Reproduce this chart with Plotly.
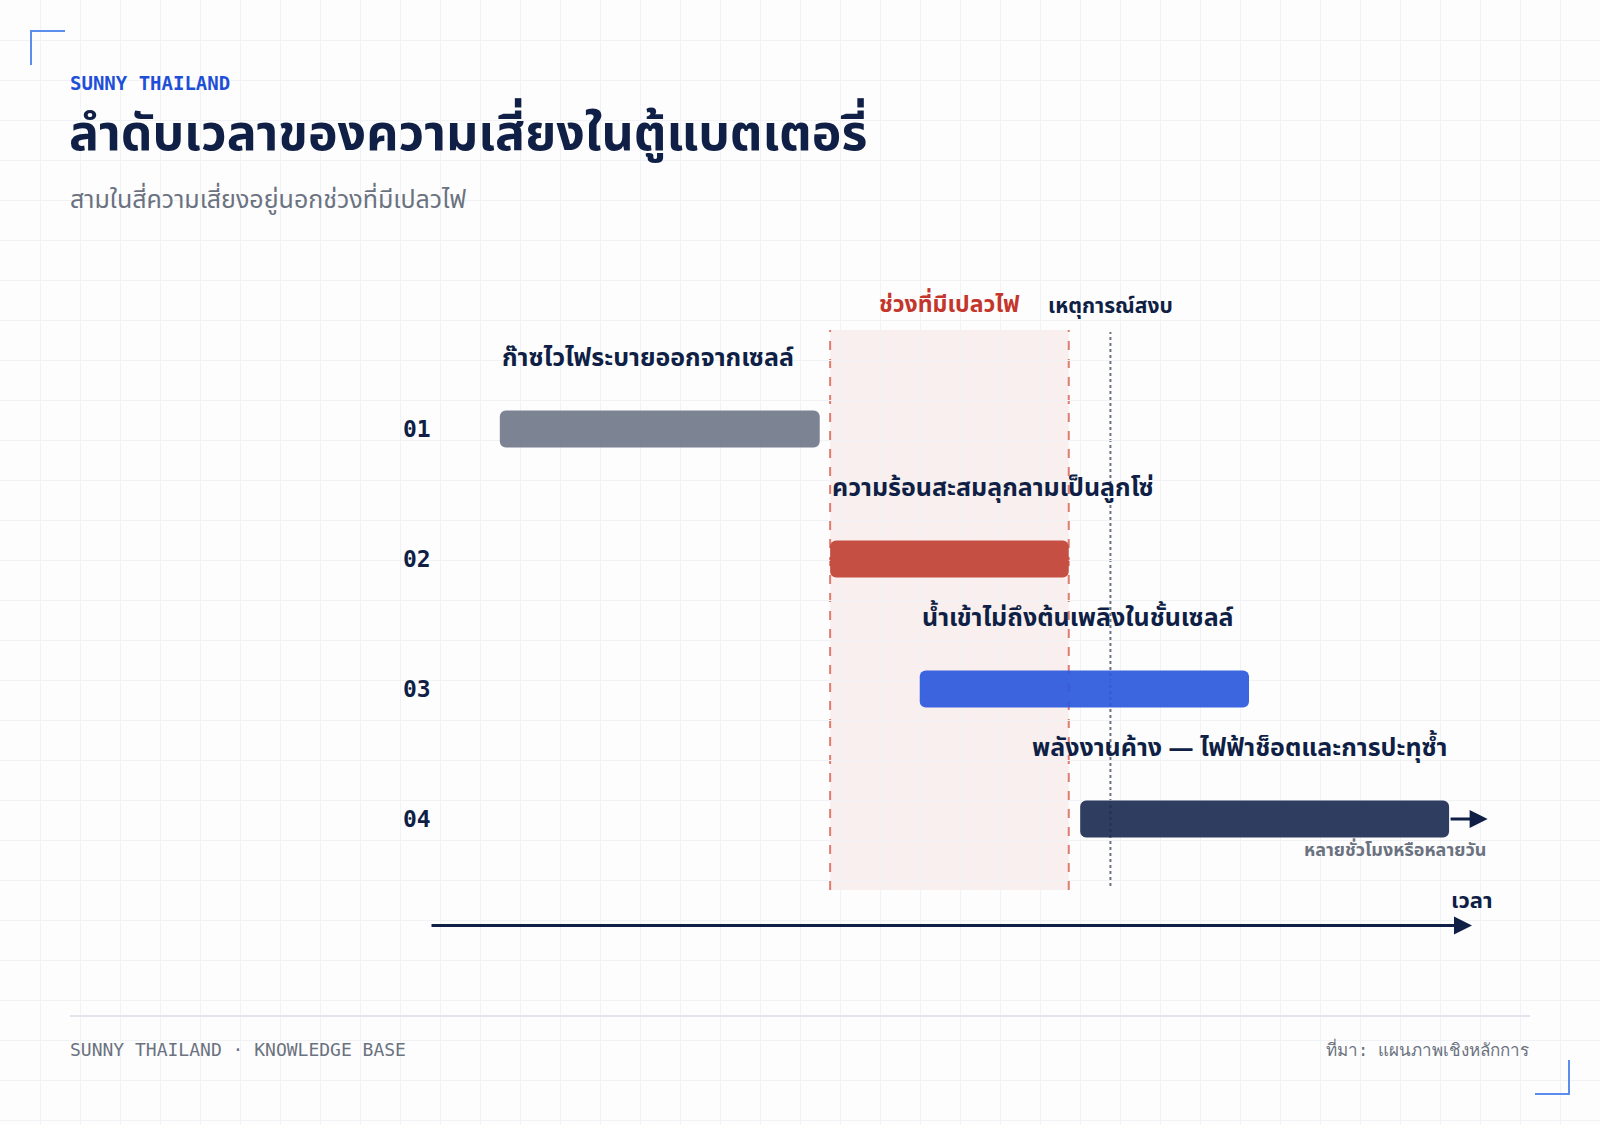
import plotly.graph_objects as go

W, H = 1600, 1125

# timeline data (abstract time units, axis runs 0 -> 100)
rows = [0, 1, 2, 3]
row_labels = ["01", "02", "03", "04"]
risk_names = [
    "ก๊าซไวไฟระบายออกจากเซลล์",
    "ความร้อนสะสมลุกลามเป็นลูกโซ่",
    "น้ำเข้าไม่ถึงต้นเพลิงในชั้นเซลล์",
    "พลังงานค้าง — ไฟฟ้าช็อตและการปะทุซ้ำ",
]
risk_start = [6.7, 38.4, 47.0, 62.4]
risk_end = [37.4, 61.3, 78.6, 97.8]
risk_colors = ["#71788a", "#c24236", "#2c59de", "#1c2d52"]
# last label sits flush with the end of its bar
label_side = ["left", "left", "left", "right"]

flame_start, flame_end = 38.4, 61.3
calm_event = 65.3
tail_end = 101.5

NAVY = "#0f1f45"
GRAY = "#6b7280"
RED = "#c4362c"
BLUE = "#1f4fd8"
THAI = "Noto Sans Thai, Noto Sans, sans-serif"
MONO = "DejaVu Sans Mono, Liberation Mono, monospace"

# pixel placement of the timeline axis
AX0, AX1 = 430.0, 1472.0
ROW0, ROW_STEP = 429.0, 130.0
k = (AX1 - AX0) / 100.0
x2_range = [-AX0 / k, (W - AX0) / k]
y2_range = [(H - ROW0) / ROW_STEP, -ROW0 / ROW_STEP]


def px(x):
    return x / W


def py(y):
    return 1 - y / H


fig = go.Figure()

# empty trace so the background grid subplot is drawn
fig.add_trace(go.Scatter(x=[], y=[], mode="markers", hoverinfo="skip", showlegend=False))

fig.add_trace(go.Bar(
    x=[e - s for s, e in zip(risk_start, risk_end)],
    base=risk_start,
    y=rows,
    orientation="h",
    width=0.285,
    marker=dict(color=risk_colors, cornerradius=6, line=dict(width=0)),
    opacity=0.92,
    xaxis="x2", yaxis="y2",
    hoverinfo="skip",
))

shapes = []
# flame window
shapes.append(dict(type="rect", xref="x2", yref="paper",
                   x0=flame_start, x1=flame_end, y0=py(890), y1=py(330),
                   fillcolor="rgba(200,60,45,0.07)", line=dict(width=0), layer="below"))
for xv in (flame_start, flame_end):
    shapes.append(dict(type="line", xref="x2", yref="paper", x0=xv, x1=xv,
                       y0=py(890), y1=py(330),
                       line=dict(color="#e07b70", width=2, dash="dash"), layer="below"))
shapes.append(dict(type="line", xref="x2", yref="paper", x0=calm_event, x1=calm_event,
                   y0=py(886), y1=py(332),
                   line=dict(color=GRAY, width=2, dash="dot"), layer="below"))
# corner brackets
shapes.append(dict(type="path", xref="paper", yref="paper",
                   path=f"M {px(31)},{py(65)} L {px(31)},{py(31)} L {px(65)},{py(31)}",
                   line=dict(color="#5b8def", width=2)))
shapes.append(dict(type="path", xref="paper", yref="paper",
                   path=f"M {px(1535)},{py(1094)} L {px(1569)},{py(1094)} L {px(1569)},{py(1060)}",
                   line=dict(color="#5b8def", width=2)))
# footer rule
shapes.append(dict(type="line", xref="paper", yref="paper",
                   x0=px(70), x1=px(1530), y0=py(1016), y1=py(1016),
                   line=dict(color="#e3e5ec", width=2)))

ann = []
for r, lab, name, s, e, side in zip(rows, row_labels, risk_names, risk_start, risk_end, label_side):
    ann.append(dict(xref="x2", yref="y2", x=0, y=r, text=f"<b>{lab}</b>",
                    xanchor="right", yanchor="middle", showarrow=False, xshift=3,
                    font=dict(family=MONO, size=23, color=NAVY)))
    ann.append(dict(xref="x2", yref="y2", x=s if side == "left" else e, y=r - 0.55,
                    text=f"<b>{name}</b>", xanchor=side, yanchor="middle", showarrow=False,
                    font=dict(family=THAI, size=25, color=NAVY)))

# tail arrow of last risk
ann.append(dict(xref="x2", yref="y2", x=tail_end, y=rows[-1], ax=risk_end[-1], ay=rows[-1],
                axref="x2", ayref="y2", text="", showarrow=True, arrowhead=2,
                arrowsize=1.2, arrowwidth=3, arrowcolor=NAVY))
ann.append(dict(xref="x2", yref="y2", x=tail_end, y=rows[-1] + 0.24,
                text="<b>หลายชั่วโมงหรือหลายวัน</b>", xanchor="right", yanchor="middle",
                showarrow=False, font=dict(family=THAI, size=18, color=GRAY)))

# time axis
ann.append(dict(xref="x2", yref="paper", x=100, y=py(925.5), ax=0, ay=0,
                axref="x2", ayref="pixel", text="", showarrow=True, arrowhead=2,
                arrowsize=1.2, arrowwidth=3, arrowcolor=NAVY))
ann.append(dict(xref="x2", yref="paper", x=102.1, y=py(901), text="<b>เวลา</b>",
                xanchor="right", yanchor="middle", showarrow=False,
                font=dict(family=THAI, size=22, color=NAVY)))

# window labels
ann.append(dict(xref="x2", yref="paper", x=(flame_start + flame_end) / 2, y=py(305),
                text="<b>ช่วงที่มีเปลวไฟ</b>", xanchor="center", yanchor="middle",
                showarrow=False, font=dict(family=THAI, size=23, color=RED)))
ann.append(dict(xref="x2", yref="paper", x=calm_event, y=py(306),
                text="<b>เหตุการณ์สงบ</b>", xanchor="center", yanchor="middle",
                showarrow=False, font=dict(family=THAI, size=21, color=NAVY)))

# header
ann.append(dict(xref="paper", yref="paper", x=px(68), y=py(83), text="<b>SUNNY THAILAND</b>",
                xanchor="left", yanchor="middle", showarrow=False,
                font=dict(family=MONO, size=19, color=BLUE)))
ann.append(dict(xref="paper", yref="paper", x=px(67), y=py(135),
                text="<b>ลำดับเวลาของความเสี่ยงในตู้แบตเตอรี่</b>",
                xanchor="left", yanchor="middle", showarrow=False,
                font=dict(family=THAI, size=50, color=NAVY)))
ann.append(dict(xref="paper", yref="paper", x=px(68), y=py(200),
                text="สามในสี่ความเสี่ยงอยู่นอกช่วงที่มีเปลวไฟ",
                xanchor="left", yanchor="middle", showarrow=False,
                font=dict(family=THAI, size=25, color=GRAY)))

# footer
ann.append(dict(xref="paper", yref="paper", x=px(68), y=py(1049),
                text="SUNNY THAILAND · KNOWLEDGE BASE",
                xanchor="left", yanchor="middle", showarrow=False,
                font=dict(family=MONO, size=18, color=GRAY)))
ann.append(dict(xref="paper", yref="paper", x=px(1531), y=py(1049),
                text="ที่มา: แผนภาพเชิงหลักการ",
                xanchor="right", yanchor="middle", showarrow=False,
                font=dict(family=MONO, size=17, color=GRAY)))

grid = dict(showgrid=True, gridcolor="#f1f2f5", gridwidth=1, zeroline=False,
            showticklabels=False, ticks="", showline=False, fixedrange=True)
plain = dict(showgrid=False, zeroline=False, showticklabels=False, ticks="",
             showline=False, fixedrange=True)

fig.update_layout(
    width=W, height=H, autosize=False,
    margin=dict(l=0, r=0, t=0, b=0),
    paper_bgcolor="#fdfdfd", plot_bgcolor="rgba(0,0,0,0)",
    showlegend=False,
    xaxis=dict(range=[0, W], dtick=40, tick0=0, domain=[0, 1], **grid),
    yaxis=dict(range=[H, 0], dtick=40, tick0=0, domain=[0, 1], **grid),
    xaxis2=dict(range=x2_range, overlaying="x", domain=[0, 1], **plain),
    yaxis2=dict(range=y2_range, overlaying="y", domain=[0, 1], **plain),
    shapes=shapes,
    annotations=ann,
    font=dict(family=THAI),
)

fig.write_html("out.html", config={"displayModeBar": False},
               post_script="document.body.style.margin='0';")
